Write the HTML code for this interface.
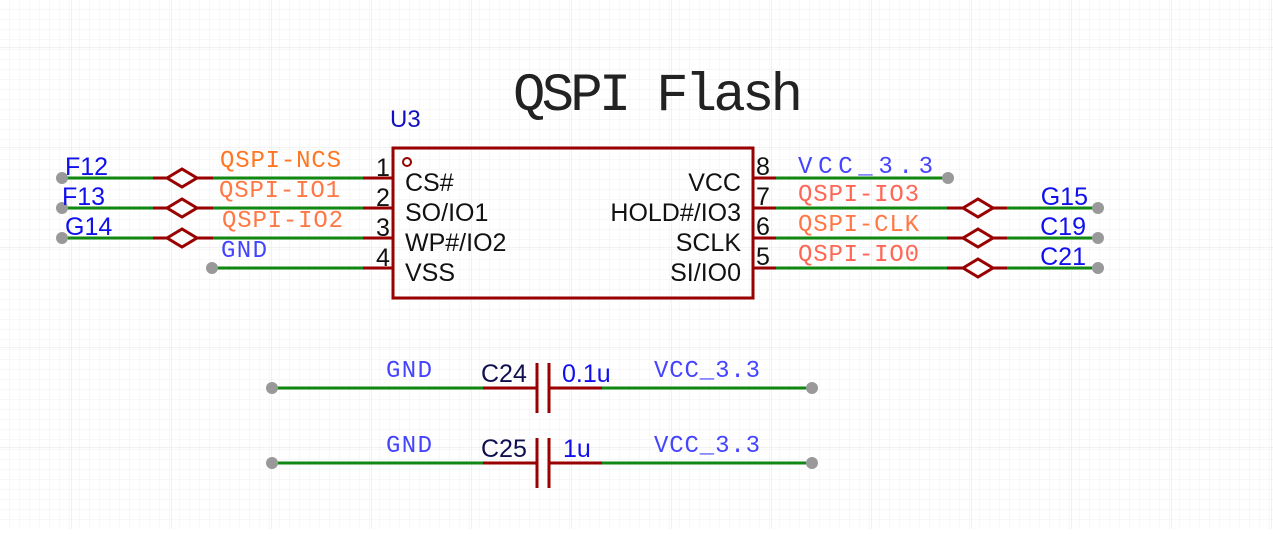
<!DOCTYPE html>
<html><head><style>
body{margin:0;background:#fff}
</style></head><body>
<svg width="1273" height="529" xmlns="http://www.w3.org/2000/svg">
<defs>
<pattern id="g" width="10" height="10" patternUnits="userSpaceOnUse"><path d="M10 0V10H0" fill="none" stroke="#f0f0f0" stroke-width="1"/></pattern>
<pattern id="G" width="100" height="100" patternUnits="userSpaceOnUse" x="-28" y="-52"><path d="M100 0V100H0" fill="none" stroke="#e4e4e4" stroke-width="1"/></pattern>
</defs>
<rect width="1273" height="529" fill="url(#g)"/>
<rect width="1273" height="529" fill="url(#G)"/>
<text x="513" y="110" font-family="Liberation Mono, monospace" font-size="54" fill="#222" textLength="290" lengthAdjust="spacing">QSPI Flash</text>
<text x="390" y="127" font-family="Liberation Sans, sans-serif" font-size="24" fill="#1010c0">U3</text>
<rect x="393" y="148" width="360" height="150" fill="none" stroke="#990000" stroke-width="3"/>
<circle cx="407" cy="162" r="4" fill="none" stroke="#990000" stroke-width="2"/>
<g stroke-width="3" fill="none">
<g stroke="#118811">
<path d="M62 178H153M213 178H363M62 208H153M213 208H363M62 238H153M213 238H363M212 268H363"/>
<path d="M776 178H948M776 208H947M1007 208H1098M776 238H947M1007 238H1098M776 268H947M1007 268H1098"/>
<path d="M272 388H483M602 388H812M272 463H483M602 463H812"/>
</g>
<g stroke="#990000">
<path d="M153 178H167M197 178H213M153 208H167M197 208H213M153 238H167M197 238H213"/>
<path d="M363 178H393M363 208H393M363 238H393M363 268H393"/>
<path d="M753 178H776M753 208H776M753 238H776M753 268H776"/>
<path d="M947 208H963M993 208H1007M947 238H963M993 238H1007M947 268H963M993 268H1007"/>
<path d="M167 178L182 169L197 178L182 187ZM167 208L182 199L197 208L182 217ZM167 238L182 229L197 238L182 247Z"/>
<path d="M963 208L978 199L993 208L978 217ZM963 238L978 229L993 238L978 247ZM963 268L978 259L993 268L978 277Z"/>
<path d="M483 388H537M549 388H602M537 363V413M549 363V413M483 463H537M549 463H602M537 438V488M549 438V488"/>
</g>
</g>
<g fill="#999">
<circle cx="62" cy="178" r="6"/><circle cx="62" cy="208" r="6"/><circle cx="62" cy="238" r="6"/><circle cx="212" cy="268" r="6"/>
<circle cx="948" cy="178" r="6"/><circle cx="1098" cy="208" r="6"/><circle cx="1098" cy="238" r="6"/><circle cx="1098" cy="268" r="6"/>
<circle cx="272" cy="388" r="6"/><circle cx="812" cy="388" r="6"/><circle cx="272" cy="463" r="6"/><circle cx="812" cy="463" r="6"/>
</g>
<g font-family="Liberation Sans, sans-serif" font-size="25" fill="#1010ee">
<text x="65" y="175">F12</text><text x="62" y="205">F13</text><text x="65" y="235">G14</text>
<text x="1088" y="205" text-anchor="end">G15</text><text x="1086" y="235" text-anchor="end">C19</text><text x="1086" y="265" text-anchor="end">C21</text>
<text x="562" y="382">0.1u</text><text x="563" y="457">1u</text>
<text x="481" y="382" fill="#101050">C24</text><text x="481" y="457" fill="#101050">C25</text>
</g>
<g font-family="Liberation Sans, sans-serif" font-size="25" fill="#111">
<text x="376" y="176">1</text><text x="376" y="206">2</text><text x="376" y="236">3</text><text x="376" y="266">4</text>
<text x="756" y="175">8</text><text x="756" y="205">7</text><text x="756" y="235">6</text><text x="756" y="265">5</text>
<text x="405" y="191">CS#</text><text x="405" y="221">SO/IO1</text><text x="405" y="251">WP#/IO2</text><text x="405" y="281">VSS</text>
<text x="741" y="191" text-anchor="end">VCC</text><text x="741" y="221" text-anchor="end">HOLD#/IO3</text><text x="741" y="251" text-anchor="end">SCLK</text><text x="741" y="281" text-anchor="end">SI/IO0</text>
</g>
<g font-family="Liberation Mono, monospace" font-size="24">
<text x="220" y="167" fill="#ff7722" textLength="121" lengthAdjust="spacing">QSPI-NCS</text>
<text x="219" y="197" fill="#ff7744" textLength="121" lengthAdjust="spacing">QSPI-IO1</text>
<text x="222" y="227" fill="#ff7744" textLength="121" lengthAdjust="spacing">QSPI-IO2</text>
<text x="221" y="257" fill="#4444ff" textLength="46" lengthAdjust="spacing">GND</text>
<text x="798" y="173" fill="#4444ff" textLength="135" lengthAdjust="spacing">VCC_3.3</text>
<text x="798" y="201" fill="#ff6655" textLength="121" lengthAdjust="spacing">QSPI-IO3</text>
<text x="798" y="231" fill="#ff7744" textLength="121" lengthAdjust="spacing">QSPI-CLK</text>
<text x="798" y="261" fill="#ff6655" textLength="121" lengthAdjust="spacing">QSPI-IO0</text>
<text x="386" y="377" fill="#4444ff" textLength="46" lengthAdjust="spacing">GND</text>
<text x="654" y="377" fill="#4444ff" textLength="106" lengthAdjust="spacing">VCC_3.3</text>
<text x="386" y="452" fill="#4444ff" textLength="46" lengthAdjust="spacing">GND</text>
<text x="654" y="452" fill="#4444ff" textLength="106" lengthAdjust="spacing">VCC_3.3</text>
</g>
</svg>
</body></html>
